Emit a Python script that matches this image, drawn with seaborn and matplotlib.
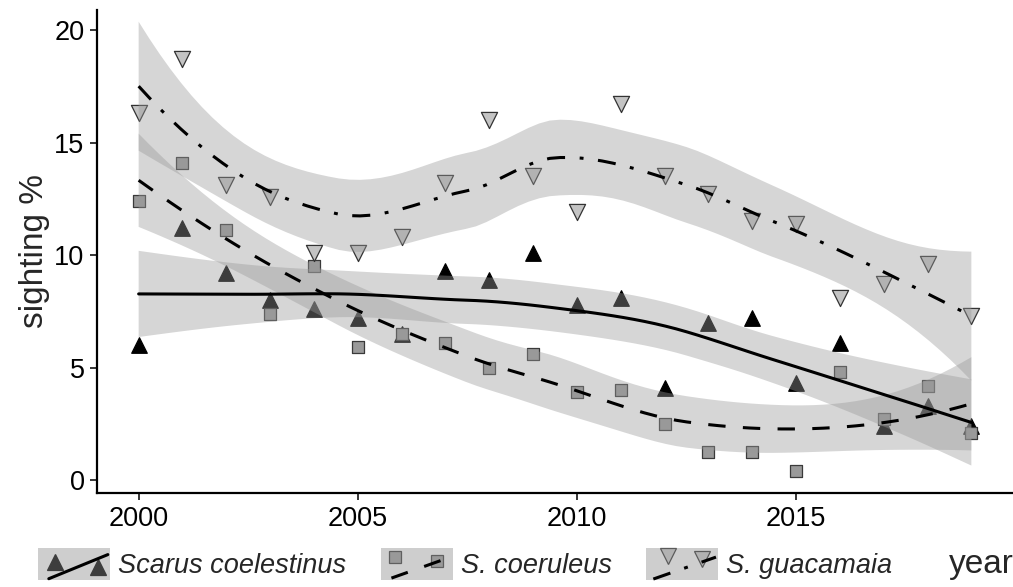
import math
import numpy as np
import pandas as pd
import matplotlib
matplotlib.use("Agg")
import matplotlib.pyplot as plt
import seaborn as sns
from matplotlib.legend_handler import HandlerBase
from matplotlib.patches import Rectangle
from matplotlib.lines import Line2D

# ---------------- data ----------------
years = list(range(2000, 2020))
scarus = [6.0, 11.2, 9.2, 8.0, 7.6, 7.2, 6.5, 9.3, 8.9, 10.1,
          7.8, 8.1, 4.1, 7.0, 7.2, 4.3, 6.1, 2.4, 3.3, 2.4]
coeruleus = [12.4, 14.1, 11.1, 7.4, 9.5, 5.9, 6.5, 6.1, 5.0, 5.6,
             3.9, 4.0, 2.5, 1.25, 1.25, 0.4, 4.8, 2.7, 4.2, 2.1]
guacamaia = [16.3, 18.7, 13.1, 12.6, 10.1, 10.1, 10.8, 13.2, 16.0, 13.5,
             11.9, 16.7, 13.5, 12.7, 11.5, 11.4, 8.1, 8.7, 9.6, 7.3]
species = ["Scarus coelestinus", "S. coeruleus", "S. guacamaia"]
x_ticks = [2000, 2005, 2010, 2015]
y_ticks = [0, 5, 10, 15, 20]

df = pd.DataFrame({
    "year": years * 3,
    "sighting": scarus + coeruleus + guacamaia,
    "species": [species[0]] * 20 + [species[1]] * 20 + [species[2]] * 20,
})


# ---------------- loess smoother (kd-tree vertex interpolation, 95% band) ----------------
def _t_quantile(p, nu):
    c = math.exp(math.lgamma((nu + 1) / 2) - math.lgamma(nu / 2)) / math.sqrt(nu * math.pi)

    def cdf(t):
        g = np.linspace(0, t, 4001)
        f = c * (1 + g ** 2 / nu) ** (-(nu + 1) / 2)
        return 0.5 + np.trapezoid(f, g)

    lo, hi = 0.0, 20.0
    for _ in range(60):
        mid = (lo + hi) / 2
        if cdf(mid) < p:
            lo = mid
        else:
            hi = mid
    return (lo + hi) / 2


def _kd_vertices(xs, fc):
    xs = np.sort(xs)
    margin = 0.005 * (xs[-1] - xs[0])
    verts = {xs[0] - margin, xs[-1] + margin}

    def split(pts):
        if len(pts) <= fc:
            return
        m = (len(pts) + 1) // 2
        v = (pts[m - 1] + pts[m]) / 2
        verts.add(v)
        split(pts[pts <= v])
        split(pts[pts > v])

    split(xs)
    return np.array(sorted(verts))


def loess_band(x, y, span=0.75, degree=2, n_grid=80, level=0.95):
    x = np.asarray(x, float)
    y = np.asarray(y, float)
    n = len(x)
    q = int(np.floor(n * span))

    def rows(x0):
        d = np.abs(x - x0)
        h = np.sort(d)[q - 1]
        u = np.clip(d / h, 0, 1)
        w = (1 - u ** 3) ** 3
        X = np.column_stack([(x - x0) ** k for k in range(degree + 1)])
        XtW = X.T * w
        B = np.linalg.solve(XtW @ X, XtW)
        return B[0], B[1]

    fc = int(np.floor(n * span * 0.2))
    verts = _kd_vertices(x, fc)
    vrows = [rows(v) for v in verts]

    def interp_row(x0):
        i = np.searchsorted(verts, x0) - 1
        i = min(max(i, 0), len(verts) - 2)
        a, b = verts[i], verts[i + 1]
        hh = b - a
        t = (x0 - a) / hh
        h00 = 2 * t ** 3 - 3 * t ** 2 + 1
        h10 = t ** 3 - 2 * t ** 2 + t
        h01 = -2 * t ** 3 + 3 * t ** 2
        h11 = t ** 3 - t ** 2
        return (h00 * vrows[i][0] + h10 * hh * vrows[i][1]
                + h01 * vrows[i + 1][0] + h11 * hh * vrows[i + 1][1])

    grid = np.linspace(x.min(), x.max(), n_grid)
    L = np.array([interp_row(v) for v in x])
    Lg = np.array([interp_row(v) for v in grid])
    fit = Lg @ y
    res = y - L @ y
    IL = np.eye(n) - L
    M = IL.T @ IL
    d1 = np.trace(M)
    d2 = np.trace(M @ M)
    sigma = np.sqrt(np.sum(res ** 2) / d1)
    se = sigma * np.sqrt(np.sum(Lg ** 2, axis=1))
    t = _t_quantile(0.5 + level / 2, d1 ** 2 / d2)
    return grid, fit, fit - t * se, fit + t * se


# ---------------- style ----------------
sns.set_style("ticks")
plt.rcParams["font.family"] = ["Liberation Sans", "DejaVu Sans"]
plt.rcParams["lines.scale_dashes"] = False

TICK_FS = 19.5
TITLE_FS = 24

styles = {
    species[0]: dict(marker="^", s=125, fc="black", ec="black", ls="-",
                     span=0.75, degree=1),
    species[1]: dict(marker="s", s=64, fc="#9a9a9a", ec="#3a3a3a", ls=(0, (12.5, 12.5)),
                     span=0.9, degree=2),
    species[2]: dict(marker="v", s=135, fc="#c4c4c4", ec="#333333",
                     ls=(0, (13, 10.5, 2.8, 10.5)), span=0.75, degree=2),
}

fig = plt.figure(figsize=(10.13, 5.87), dpi=100)
ax = fig.add_axes([97 / 1013, (587 - 493) / 587, 916 / 1013, 483 / 587])

# points first
for sp in species:
    st = styles[sp]
    sub = df[df["species"] == sp]
    sns.scatterplot(data=sub, x="year", y="sighting", marker=st["marker"], s=st["s"],
                    color=st["fc"], edgecolor=st["ec"], linewidth=0.9, ax=ax,
                    legend=False, zorder=1)

# loess smooths with confidence ribbons on top
for sp in species:
    st = styles[sp]
    sub = df[df["species"] == sp]
    grid, fit, lo, hi = loess_band(sub["year"], sub["sighting"],
                                   span=st["span"], degree=st["degree"])
    ax.fill_between(grid, lo, hi, facecolor="#999999", alpha=0.4, edgecolor="none", zorder=2)
    sns.lineplot(x=grid, y=fit, color="black", lw=2.2, linestyle=st["ls"], ax=ax, zorder=3)

ax.set_xlim(1999.05, 2019.95)
ax.set_ylim(-0.58, 20.9)
ax.set_xticks(x_ticks)
ax.set_yticks(y_ticks)
sns.despine(ax=ax)
for side in ["left", "bottom"]:
    ax.spines[side].set_linewidth(1.6)
    ax.spines[side].set_color("black")
ax.tick_params(axis="both", length=5, width=1.1, color="black",
               labelsize=TICK_FS, labelcolor="black", pad=4)

ax.set_ylabel("sighting %", fontsize=TITLE_FS)
ax.yaxis.set_label_coords(-0.068, 0.5)
ax.yaxis.label.set_va("center")
ax.set_xlabel("year", fontsize=TITLE_FS)
ax.xaxis.set_label_coords(0.965, -0.149)
ax.xaxis.label.set_va("center")


# ---------------- legend ----------------
class KeyHandler(HandlerBase):
    def __init__(self, st, pts, line_pts):
        super().__init__()
        self.st = st
        self.pts = pts
        self.line_pts = line_pts

    def create_artists(self, legend, orig_handle, xdescent, ydescent,
                       width, height, fontsize, trans):
        x0, y0 = -xdescent, -ydescent
        bg = Rectangle((x0, y0), width, height, facecolor="#f2f2f2",
                       edgecolor="none", transform=trans)
        ms = np.sqrt(self.st["s"])
        mk = Line2D([x0 + p[0] * width for p in self.pts],
                    [y0 + p[1] * height for p in self.pts],
                    marker=self.st["marker"], linestyle="none", markersize=ms,
                    markerfacecolor=self.st["fc"], markeredgecolor=self.st["ec"],
                    markeredgewidth=0.9, transform=trans)
        rib = Rectangle((x0, y0), width, height, facecolor="#999999", alpha=0.4,
                        edgecolor="none", transform=trans)
        (a, b), (c, d) = self.line_pts
        ln = Line2D([x0 + a * width, x0 + c * width], [y0 + b * height, y0 + d * height],
                    color="black", lw=2.2, linestyle=self.st["ls"], transform=trans)
        return [bg, mk, rib, ln]


handles = [Line2D([], []) for _ in species]
hmap = {
    handles[0]: KeyHandler(styles[species[0]], [(0.24, 0.55), (0.83, 0.4)],
                           [(0.15, 0.03), (0.97, 0.8)]),
    handles[1]: KeyHandler(styles[species[1]], [(0.2, 0.72), (0.78, 0.6)],
                           [(0.15, 0.05), (0.97, 0.72)]),
    handles[2]: KeyHandler(styles[species[2]], [(0.3, 0.75), (0.78, 0.65)],
                           [(0.1, 0.02), (0.97, 0.72)]),
}
fs_px = TICK_FS * 100 / 72
fig.legend(handles, species, handler_map=hmap, loc="center left",
           bbox_to_anchor=(38 / 1013, 1 - 564 / 587), ncol=3, frameon=False,
           borderpad=0, borderaxespad=0, handlelength=72 / fs_px,
           handleheight=38 / fs_px, handletextpad=8 / fs_px,
           columnspacing=34.5 / fs_px,
           prop=dict(family=["Liberation Sans", "DejaVu Sans"], style="italic", size=TICK_FS))

fig.savefig("out.png", dpi=100)
